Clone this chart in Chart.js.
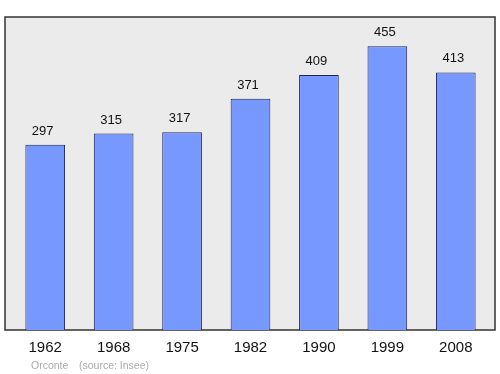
<!DOCTYPE html>
<html><head><meta charset="utf-8">
<script src="https://cdn.jsdelivr.net/npm/chart.js@4"></script>
<style>html,body{margin:0;padding:0;background:#fff;}canvas{display:block;}</style>
</head><body>
<canvas id="c" width="500" height="374"></canvas>
<script>
const years = ["1962","1968","1975","1982","1990","1999","2008"];
const population = [297,315,317,371,409,455,413];
const footerPlace = "Orconte";
const footerSource = "(source: Insee)";

const decor = {
  id: 'decor',
  beforeDatasetsDraw(chart) {
    const {ctx, chartArea: a} = chart;
    ctx.save();
    ctx.fillStyle = '#ebebeb';
    ctx.fillRect(a.left - 6, a.top, a.right - a.left + 11, a.bottom - a.top);
    ctx.strokeStyle = '#333';
    ctx.lineWidth = 1.5;
    ctx.strokeRect(a.left - 6, a.top, a.right - a.left + 11, a.bottom - a.top);
    ctx.restore();
  },
  afterDatasetsDraw(chart) {
    const {ctx, chartArea: a} = chart;
    const meta = chart.getDatasetMeta(0);
    const xs = chart.scales.x;
    ctx.save();
    ctx.fillStyle = '#111';
    ctx.textAlign = 'center';
    ctx.font = '13px "Liberation Sans", Arial, sans-serif';
    ctx.textBaseline = 'alphabetic';
    meta.data.forEach((bar, i) => {
      ctx.fillText(String(population[i]), bar.x - 2.5, bar.y - 10);
    });
    ctx.font = '15px "Liberation Sans", Arial, sans-serif';
    ctx.textBaseline = 'middle';
    years.forEach((y, i) => {
      ctx.fillText(y, xs.getPixelForValue(i), a.bottom + 18);
    });
    ctx.fillStyle = '#aaa';
    ctx.font = '10.5px "Liberation Sans", Arial, sans-serif';
    ctx.textAlign = 'left';
    ctx.fillText(footerPlace, 31, a.bottom + 36);
    ctx.fillText(footerSource, 79, a.bottom + 36);
    ctx.restore();
  }
};

new Chart(document.getElementById('c'), {
  type: 'bar',
  data: {
    labels: years,
    datasets: [{
      data: population,
      backgroundColor: '#7799ff',
      borderColor: '#222255',
      borderWidth: 1,
      barPercentage: 0.58,
      categoryPercentage: 1.0
    }]
  },
  options: {
    responsive: false,
    animation: false,
    devicePixelRatio: 1,
    layout: { padding: { left: 11, right: 10, top: 17, bottom: 44 } },
    plugins: { legend: { display: false }, tooltip: { enabled: false } },
    scales: {
      x: { display: false },
      y: { display: false, min: 0, max: 502 }
    }
  },
  plugins: [decor]
});
</script>
</body></html>
